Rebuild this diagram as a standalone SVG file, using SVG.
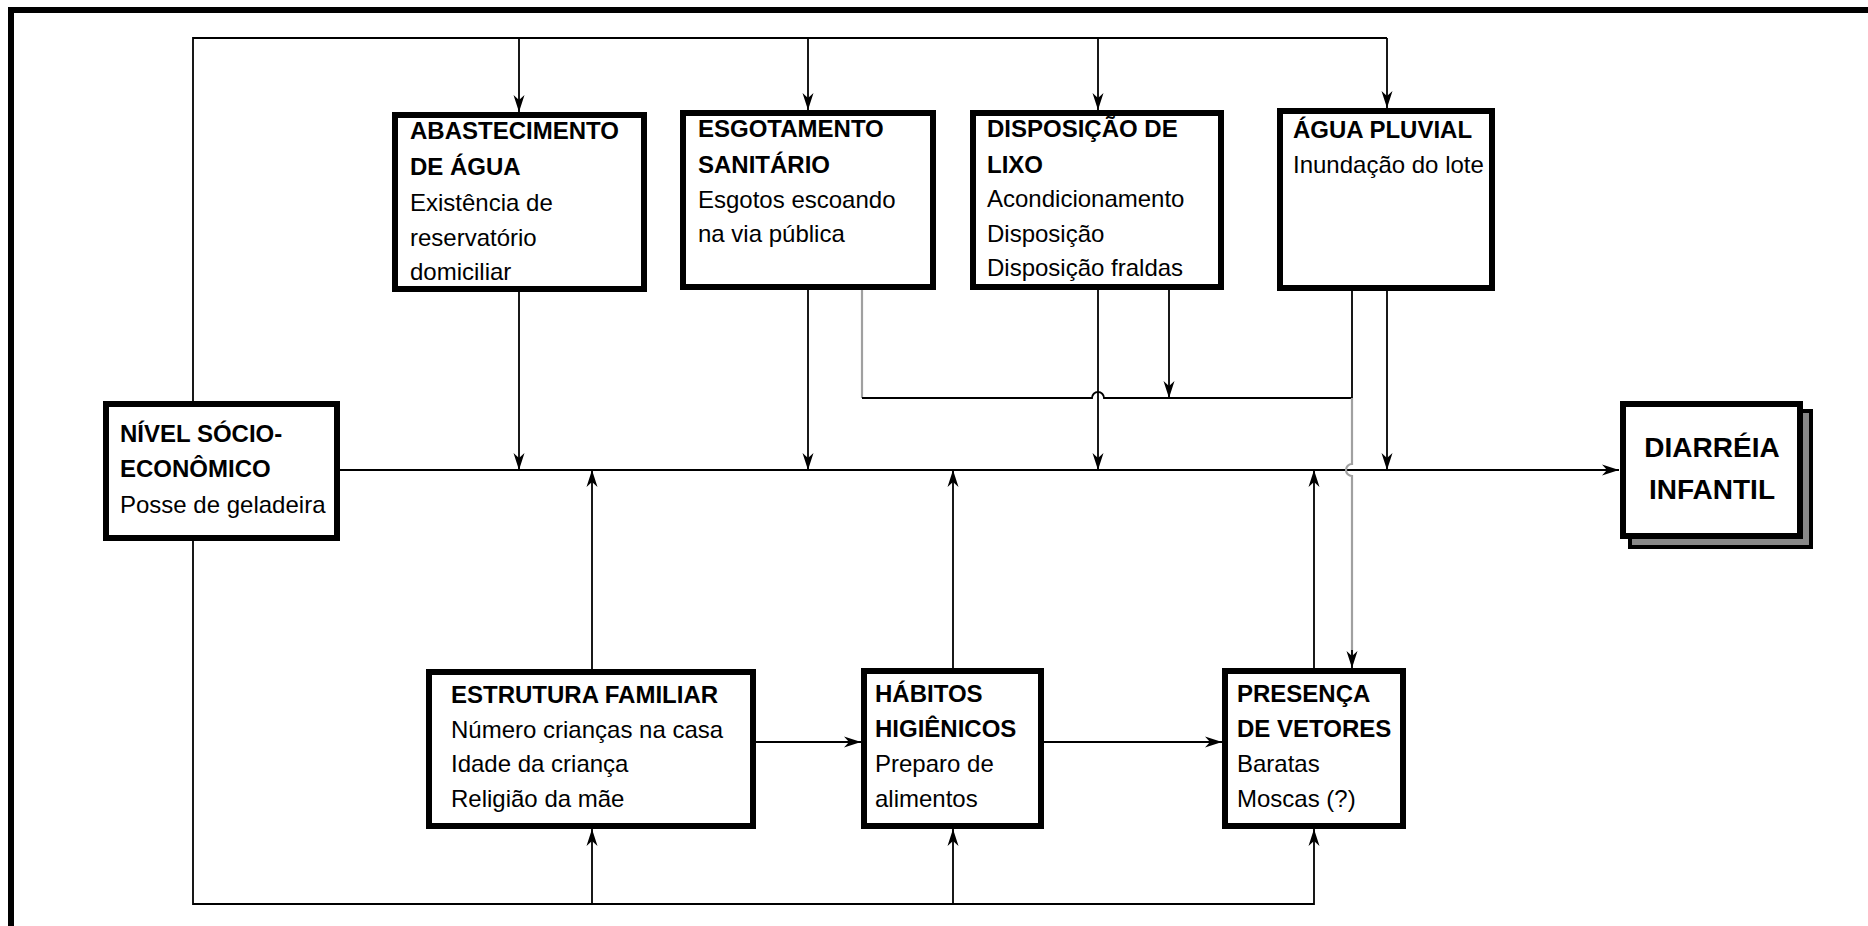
<svg xmlns="http://www.w3.org/2000/svg" width="1868" height="926" viewBox="0 0 1868 926">
<style>
.box{fill:#fff;stroke:#000;stroke-width:6}
.t{font-family:"Liberation Sans",Arial,sans-serif;font-size:24px;fill:#000}
.b{font-weight:bold}
.c{fill:none;stroke:#000;stroke-width:1.8}
.g{fill:none;stroke:#a0a0a0;stroke-width:2.2}
.frame{fill:none;stroke:#000;stroke-width:6}
</style>
<defs>
<marker id="ah" markerUnits="userSpaceOnUse" markerWidth="18" markerHeight="14" viewBox="0 0 18 14" refX="17" refY="7" orient="auto">
<path d="M0,1.5 L17,7 L0,12.5 L5,7 z" fill="#000"/>
</marker>
</defs>
<rect width="1868" height="926" fill="#fff"/>
<path class="frame" d="M11,926 V10 H1868"/>
<g id="connectors">
<path class="c" d="M193,401 V38 H1387"/>
<path class="c" d="M519,38 V112" marker-end="url(#ah)"/>
<path class="c" d="M808,38 V110" marker-end="url(#ah)"/>
<path class="c" d="M1098,38 V110" marker-end="url(#ah)"/>
<path class="c" d="M1387,38 V108" marker-end="url(#ah)"/>
<path class="c" d="M193,541 V904 H1314 V829" marker-end="url(#ah)"/>
<path class="c" d="M592,904 V829" marker-end="url(#ah)"/>
<path class="c" d="M953,904 V829" marker-end="url(#ah)"/>
<path class="c" d="M340,470 H1619" marker-end="url(#ah)"/>
<path class="c" d="M519,292 V470" marker-end="url(#ah)"/>
<path class="c" d="M808,290 V470" marker-end="url(#ah)"/>
<path class="c" d="M1098,290 V470" marker-end="url(#ah)"/>
<path class="c" d="M1387,291 V470" marker-end="url(#ah)"/>
<path class="c" d="M592,669 V470" marker-end="url(#ah)"/>
<path class="c" d="M953,668 V470" marker-end="url(#ah)"/>
<path class="c" d="M1314,668 V470" marker-end="url(#ah)"/>
<path class="c" d="M756,742 H861" marker-end="url(#ah)"/>
<path class="c" d="M1044,742 H1222" marker-end="url(#ah)"/>
<path class="g" d="M862,290 V398"/>
<path class="c" d="M862,398 H1092 A6,6 0 0 1 1104,398 H1352 V291"/>
<path class="c" d="M1169,290 V398" marker-end="url(#ah)"/>
<path class="g" d="M1352,398 V464 A6,6 0 0 0 1352,476 V664"/>
<path class="c" d="M1352,650 V668" marker-end="url(#ah)" stroke="#666"/>
</g>
<g id="nivel">
<rect class="box" x="106" y="404" width="231" height="134"/>
<text class="t b" x="120" y="442">NÍVEL SÓCIO-</text>
<text class="t b" x="120" y="477">ECONÔMICO</text>
<text class="t" x="120" y="513">Posse de geladeira</text>
</g>
<g id="abastecimento">
<rect class="box" x="395" y="115" width="249" height="174"/>
<text class="t b" x="410" y="139">ABASTECIMENTO</text>
<text class="t b" x="410" y="175">DE ÁGUA</text>
<text class="t" x="410" y="211">Existência de</text>
<text class="t" x="410" y="246">reservatório</text>
<text class="t" x="410" y="280">domiciliar</text>
</g>
<g id="esgotamento">
<rect class="box" x="683" y="113" width="250" height="174"/>
<text class="t b" x="698" y="137">ESGOTAMENTO</text>
<text class="t b" x="698" y="173">SANITÁRIO</text>
<text class="t" x="698" y="208">Esgotos escoando</text>
<text class="t" x="698" y="242">na via pública</text>
</g>
<g id="lixo">
<rect class="box" x="973" y="113" width="248" height="174"/>
<text class="t b" x="987" y="137">DISPOSIÇÃO DE</text>
<text class="t b" x="987" y="173">LIXO</text>
<text class="t" x="987" y="207">Acondicionamento</text>
<text class="t" x="987" y="242">Disposição</text>
<text class="t" x="987" y="276">Disposição fraldas</text>
</g>
<g id="pluvial">
<rect class="box" x="1280" y="111" width="212" height="177"/>
<text class="t b" x="1293" y="138">ÁGUA PLUVIAL</text>
<text class="t" x="1293" y="173">Inundação do lote</text>
</g>
<g id="diarreia">
<rect x="1630" y="411" width="181" height="136" fill="#888" stroke="#000" stroke-width="4"/>
<rect class="box" x="1623" y="404" width="177" height="132"/>
<text class="t b" x="1712" y="457" text-anchor="middle" style="font-size:28px">DIARRÉIA</text>
<text class="t b" x="1712" y="499" text-anchor="middle" style="font-size:28px">INFANTIL</text>
</g>
<g id="estrutura">
<rect class="box" x="429" y="672" width="324" height="154"/>
<text class="t b" x="451" y="703">ESTRUTURA FAMILIAR</text>
<text class="t" x="451" y="738">Número crianças na casa</text>
<text class="t" x="451" y="772">Idade da criança</text>
<text class="t" x="451" y="807">Religião da mãe</text>
</g>
<g id="habitos">
<rect class="box" x="864" y="671" width="177" height="155"/>
<text class="t b" x="875" y="702">HÁBITOS</text>
<text class="t b" x="875" y="737">HIGIÊNICOS</text>
<text class="t" x="875" y="772">Preparo de</text>
<text class="t" x="875" y="807">alimentos</text>
</g>
<g id="vetores">
<rect class="box" x="1225" y="671" width="178" height="155"/>
<text class="t b" x="1237" y="702">PRESENÇA</text>
<text class="t b" x="1237" y="737">DE VETORES</text>
<text class="t" x="1237" y="772">Baratas</text>
<text class="t" x="1237" y="807">Moscas (?)</text>
</g>
</svg>
